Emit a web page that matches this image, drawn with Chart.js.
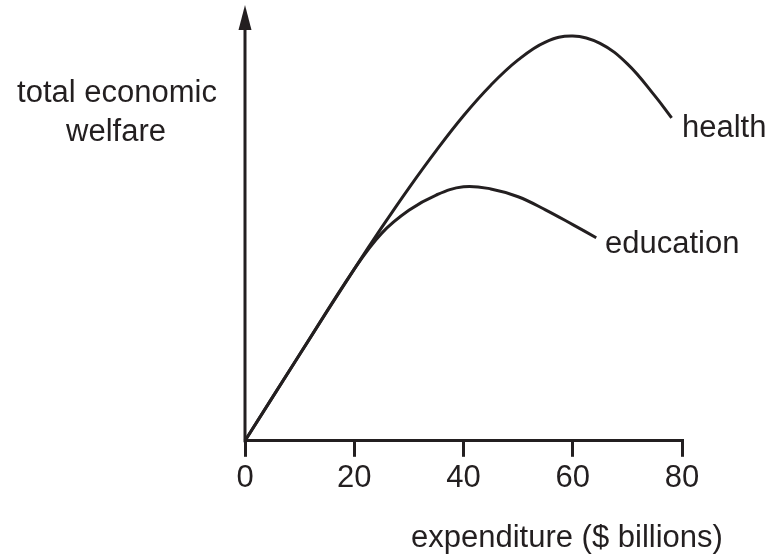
<!DOCTYPE html>
<html>
<head>
<meta charset="utf-8">
<script src="https://cdn.jsdelivr.net/npm/chart.js@4/dist/chart.umd.min.js"></script>
<style>
  html, body { margin: 0; padding: 0; background: #fff; }
  #wrap { width: 771px; height: 556px; }
</style>
</head>
<body>
<div id="wrap"><canvas id="grafico" width="771" height="556"></canvas></div>
<script>
const xTicks = [0, 20, 40, 60, 80];

const healthX = [0, 10, 20, 25, 30, 35, 40, 45, 50, 55, 60, 65, 70, 75, 78.1];
const healthY = [0, 19.8, 39.4, 48.9, 58.0, 66.6, 74.6, 81.6, 87.4, 91.5, 92.9, 91.2, 86.5, 79.2, 74.1];

const educationX = [0, 10, 20, 25, 30, 35, 40, 45, 50, 55, 60, 64.3];
const educationY = [0, 19.8, 39.4, 47.6, 52.9, 56.4, 58.3, 57.8, 56.0, 53.0, 49.6, 46.6];

const ink = "#231f20";
const fuente = "'Liberation Sans', Arial, sans-serif";

function puntos(xs, ys) {
  return xs.map((x, i) => ({ x: x, y: ys[i] }));
}

// eje vertical con flecha y textos sueltos
const extras = {
  id: "extras",
  afterDraw(chart) {
    const ctx = chart.ctx;
    const { x, y } = chart.scales;
    const area = chart.chartArea;
    const x0 = x.getPixelForValue(0);
    const y0 = y.getPixelForValue(0);

    ctx.save();
    ctx.strokeStyle = ink;
    ctx.fillStyle = ink;
    ctx.lineWidth = 3;
    ctx.beginPath();
    ctx.moveTo(x0, y0 + 1.5);
    ctx.lineTo(x0, area.top + 22);
    ctx.stroke();

    ctx.beginPath();
    ctx.moveTo(x0, area.top);
    ctx.lineTo(x0 - 6.5, area.top + 25);
    ctx.lineTo(x0 + 6.5, area.top + 25);
    ctx.closePath();
    ctx.fill();

    ctx.font = "31px " + fuente;
    ctx.textBaseline = "alphabetic";
    ctx.textAlign = "center";
    ctx.fillText("total economic", 117, 102);
    ctx.fillText("welfare", 116, 141);

    ctx.textAlign = "left";
    ctx.fillText("health", 682, 137);
    ctx.fillText("education", 605, 253);
    ctx.fillText("expenditure ($ billions)", 411, 547);
    ctx.restore();
  }
};

const ctx = document.getElementById("grafico").getContext("2d");

new Chart(ctx, {
  type: "line",
  data: {
    datasets: [
      {
        label: "health",
        data: puntos(healthX, healthY),
        borderColor: ink,
        borderWidth: 3,
        pointRadius: 0,
        tension: 0.4,
        clip: false
      },
      {
        label: "education",
        data: puntos(educationX, educationY),
        borderColor: ink,
        borderWidth: 3,
        pointRadius: 0,
        tension: 0.4,
        clip: false
      }
    ]
  },
  options: {
    responsive: false,
    animation: false,
    layout: { padding: { left: 245, right: 89, top: 5, bottom: 56 } },
    plugins: {
      legend: { display: false },
      tooltip: { enabled: false }
    },
    scales: {
      x: {
        type: "linear",
        min: xTicks[0],
        max: xTicks[xTicks.length - 1],
        afterBuildTicks: (scale) => {
          scale.ticks = xTicks.map(v => ({ value: v }));
        },
        grid: {
          display: true,
          drawOnChartArea: false,
          drawTicks: true,
          tickLength: 16,
          color: ink,
          lineWidth: 3
        },
        border: { display: true, color: ink, width: 3 },
        ticks: {
          color: ink,
          padding: 3,
          font: { family: fuente, size: 31 }
        }
      },
      y: {
        display: false,
        min: 0,
        max: 100
      }
    }
  },
  plugins: [extras]
});
</script>
</body>
</html>
